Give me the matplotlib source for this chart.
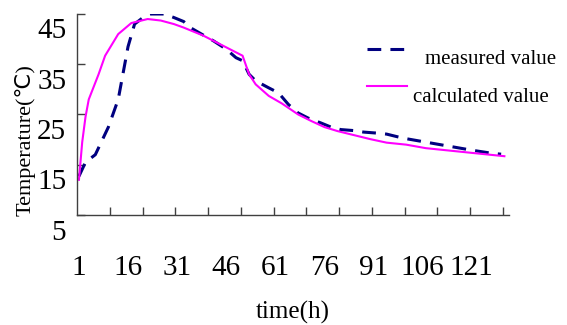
import matplotlib
matplotlib.use('Agg')
import matplotlib.pyplot as plt
from matplotlib.lines import Line2D
from matplotlib.transforms import ScaledTranslation

plt.rcParams['font.family'] = ['Liberation Serif', 'DejaVu Sans']

# measured temperature (hour index, value)
meas_x = [1, 3, 6, 10, 13, 16, 18, 21, 23, 27, 30, 33, 35, 39, 42, 46, 49, 51, 53, 55,
          59, 62, 65, 68, 71, 75, 78, 81, 85, 88, 92, 95, 100, 107, 114, 121, 127, 130]
meas_y = [12.7, 15.5, 17.0, 22.5, 28.0, 38.5, 43.0, 44.5, 45.0, 45.0, 44.3, 43.5, 42.3,
          40.8, 39.7, 38.0, 36.3, 35.7, 33.0, 31.7, 30.3, 29.3, 27.0, 25.3, 24.3, 23.3,
          22.5, 22.0, 21.8, 21.5, 21.3, 21.1, 20.3, 19.5, 18.7, 17.9, 17.3, 17.1]

# calculated temperature
calc_x = [1, 2, 3, 4, 7, 9, 13, 17, 22, 26, 30, 33, 39, 45, 51, 53, 55, 59, 63, 68, 72,
          76, 80, 85, 90, 95, 101, 107, 113, 119, 125, 131]
calc_y = [12.0, 19.5, 24.5, 28.0, 33.0, 36.7, 41.0, 43.2, 44.0, 43.7, 43.0, 42.3, 40.7,
          38.7, 36.7, 33.0, 31.0, 28.7, 27.2, 25.0, 23.7, 22.5, 21.7, 20.9, 20.1, 19.4,
          19.0, 18.3, 17.9, 17.5, 17.1, 16.7]

n_hours = 132
xtick_labels = [1, 16, 31, 46, 61, 76, 91, 106, 121]
yticks = [5, 15, 25, 35, 45]

fig = plt.figure(figsize=(5.67, 3.25), dpi=100)
ax = fig.add_axes([77.3 / 567, 110 / 325, 432 / 567, 201 / 325])

ax.plot(meas_x, meas_y, color='#000080', lw=2.2, linestyle=(0, (4.5, 3)))
ax.plot(calc_x, calc_y, color='#ff00ff', lw=1.5)

ax.set_xlim(0.5, n_hours + 0.5)
ax.set_ylim(5, 45)

for s in ['top', 'right']:
    ax.spines[s].set_visible(False)
for s in ['left', 'bottom']:
    ax.spines[s].set_color('#404040')
    ax.spines[s].set_linewidth(1.0)

# tick marks between category groups, labels every 15 hours
ax.set_xticks(xtick_labels)
ax.set_xticklabels([str(v) for v in xtick_labels], fontsize=21)
ax.tick_params(axis='x', which='major', length=0, pad=29)
ax.set_xticks([10.5 + 10 * k for k in range(13)], minor=True)
ax.tick_params(axis='x', which='minor', direction='in', length=6, width=1, color='#404040')

ax.set_yticks(yticks)
ax.set_yticklabels([str(v) for v in yticks], fontsize=21)
ax.tick_params(axis='y', direction='in', length=6, width=1, color='#404040', pad=8)
off = ScaledTranslation(0, -14.5 / 100, fig.dpi_scale_trans)
for lab in ax.get_yticklabels():
    lab.set_transform(lab.get_transform() + off)

fig.text(25 / 567, 1 - 140 / 325, 'Temperature(℃)', rotation=90, fontsize=16,
         ha='center', va='center')
fig.text(293 / 567, 1 - 312 / 325, 'time(h)', fontsize=18, ha='center', va='center')

# legend
fig.add_artist(Line2D([367 / 567, 406 / 567], [1 - 49 / 325, 1 - 49 / 325],
                      color='#000080', lw=2.2, linestyle=(0, (4.5, 3))))
fig.add_artist(Line2D([367 / 567, 407 / 567], [1 - 86 / 325, 1 - 86 / 325],
                      color='#ff00ff', lw=1.5))
fig.text(425 / 567, 1 - 59 / 325, 'measured value', fontsize=15, ha='left', va='center')
fig.text(413 / 567, 1 - 97 / 325, 'calculated value', fontsize=15, ha='left', va='center')

fig.savefig('out.png', dpi=100)
